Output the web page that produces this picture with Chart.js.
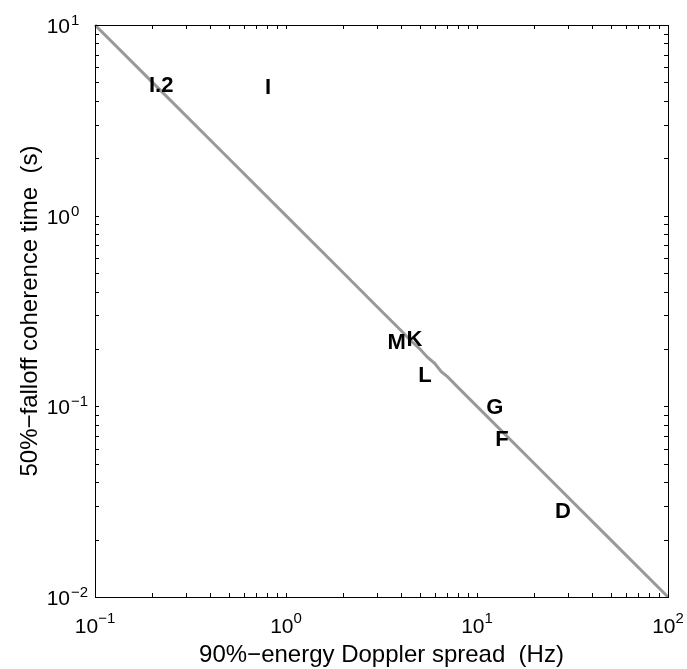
<!DOCTYPE html>
<html>
<head>
<meta charset="utf-8">
<script src="https://cdn.jsdelivr.net/npm/chart.js@4.4.0/dist/chart.umd.min.js"></script>
<style>
  body { margin: 0; background: #fff; }
  canvas { display: block; }
</style>
</head>
<body>
<canvas id="coherence-chart" width="687" height="669"></canvas>
<script>
// site labels and where they sit (Doppler spread Hz, coherence time s)
const sites = ['I.2', 'I', 'M', 'K', 'L', 'G', 'F', 'D']
const spreadHz = [0.222, 0.805, 3.8, 4.7, 5.34, 12.4, 13.5, 28.2]
const coherenceS = [4.79, 4.68, 0.215, 0.222, 0.144, 0.098, 0.0667, 0.0279]

// gray reference curve
const curveX = [0.1, 0.2, 0.5, 1, 2, 3, 4, 4.5, 5, 5.5, 6, 6.5, 7, 8, 10, 20, 50, 100]
const curveY = [10, 5, 2, 1, 0.5, 0.333, 0.25, 0.221, 0.201, 0.181, 0.168, 0.152, 0.143, 0.125, 0.1, 0.05, 0.02, 0.01]

const xTickExp = ['−1', '0', '1', '2']
const yTickExp = ['−2', '−1', '0', '1']
const xTickVals = [0.1, 1, 10, 100]
const yTickVals = [0.01, 0.1, 1, 10]

const xTitle = '90%−energy Doppler spread  (Hz)'
const yTitle = '50%−falloff coherence time  (s)'

const FONT = '"Liberation Sans", Arial, sans-serif'

const ctx = document.querySelector('#coherence-chart').getContext('2d')

const matlabAxes = {
  id: 'matlabAxes',
  afterDatasetsDraw(chart) {
    const c = chart.ctx
    const meta = chart.getDatasetMeta(1)
    c.save()
    c.fillStyle = '#000'
    c.font = 'bold 22px ' + FONT
    c.textAlign = 'center'
    c.textBaseline = 'middle'
    meta.data.forEach((pt, i) => {
      c.fillText(sites[i], pt.x, pt.y)
    })
    c.restore()
  },
  afterDraw(chart) {
    const c = chart.ctx
    const a = chart.chartArea
    const xs = chart.scales.x
    const ys = chart.scales.y
    c.save()
    c.strokeStyle = '#000'
    c.lineWidth = 1
    c.strokeRect(a.left + 0.5, a.top + 0.5, a.right - a.left, a.bottom - a.top)

    // ticks, inward, on all four sides
    const tl = 4
    c.beginPath()
    for (let e = -1; e < 2; e++) {
      for (let m = 1; m <= 10; m++) {
        const px = Math.round(xs.getPixelForValue(m * Math.pow(10, e))) + 0.5
        c.moveTo(px, a.bottom); c.lineTo(px, a.bottom - tl)
        c.moveTo(px, a.top); c.lineTo(px, a.top + tl)
      }
    }
    for (let e = -2; e < 1; e++) {
      for (let m = 1; m <= 10; m++) {
        const py = Math.round(ys.getPixelForValue(m * Math.pow(10, e))) + 0.5
        c.moveTo(a.left, py); c.lineTo(a.left + tl, py)
        c.moveTo(a.right, py); c.lineTo(a.right - tl, py)
      }
    }
    c.stroke()

    // tick labels 10^n
    c.fillStyle = '#000'
    c.textBaseline = 'alphabetic'
    c.textAlign = 'left'
    xTickVals.forEach((v, i) => {
      const px = xs.getPixelForValue(v)
      c.font = '21px ' + FONT
      const w1 = c.measureText('10').width
      c.font = '15px ' + FONT
      const w2 = c.measureText(xTickExp[i]).width
      const x0 = px - (w1 + w2) / 2
      c.font = '21px ' + FONT
      c.fillText('10', x0, 633)
      c.font = '15px ' + FONT
      c.fillText(xTickExp[i], x0 + w1, 623)
    })
    yTickVals.forEach((v, i) => {
      const py = ys.getPixelForValue(v)
      c.font = '21px ' + FONT
      c.textAlign = 'right'
      c.fillText('10', 70, py + 8)
      c.font = '15px ' + FONT
      c.textAlign = 'left'
      c.fillText(yTickExp[i], 71, py)
    })

    // axis titles
    c.font = '24px ' + FONT
    c.textAlign = 'center'
    c.fillText(xTitle, (a.left + a.right) / 2, 662)
    c.translate(37, (a.top + a.bottom) / 2)
    c.rotate(-Math.PI / 2)
    c.fillText(yTitle, 0, 0)
    c.restore()
  }
}

const data = {
  datasets: [{
    data: curveX.map((x, i) => ({ x, y: curveY[i] })),
    showLine: true,
    borderColor: 'rgb(153, 153, 153)',
    borderWidth: 3,
    pointRadius: 0,
    clip: false,
  },
  {
    data: spreadHz.map((x, i) => ({ x, y: coherenceS[i] })),
    showLine: false,
    pointRadius: 0,
  }],
}

const config = {
  type: 'scatter',
  data: data,
  options: {
    responsive: false,
    animation: false,
    layout: { padding: { left: 95, top: 25, right: 19, bottom: 72 } },
    plugins: { legend: { display: false }, tooltip: { enabled: false } },
    scales: {
      x: { type: 'logarithmic', min: 0.1, max: 100, display: false },
      y: { type: 'logarithmic', min: 0.01, max: 10, display: false },
    },
  },
  plugins: [matlabAxes],
}

const scatterChart = new Chart(ctx, config)
</script>
</body>
</html>
